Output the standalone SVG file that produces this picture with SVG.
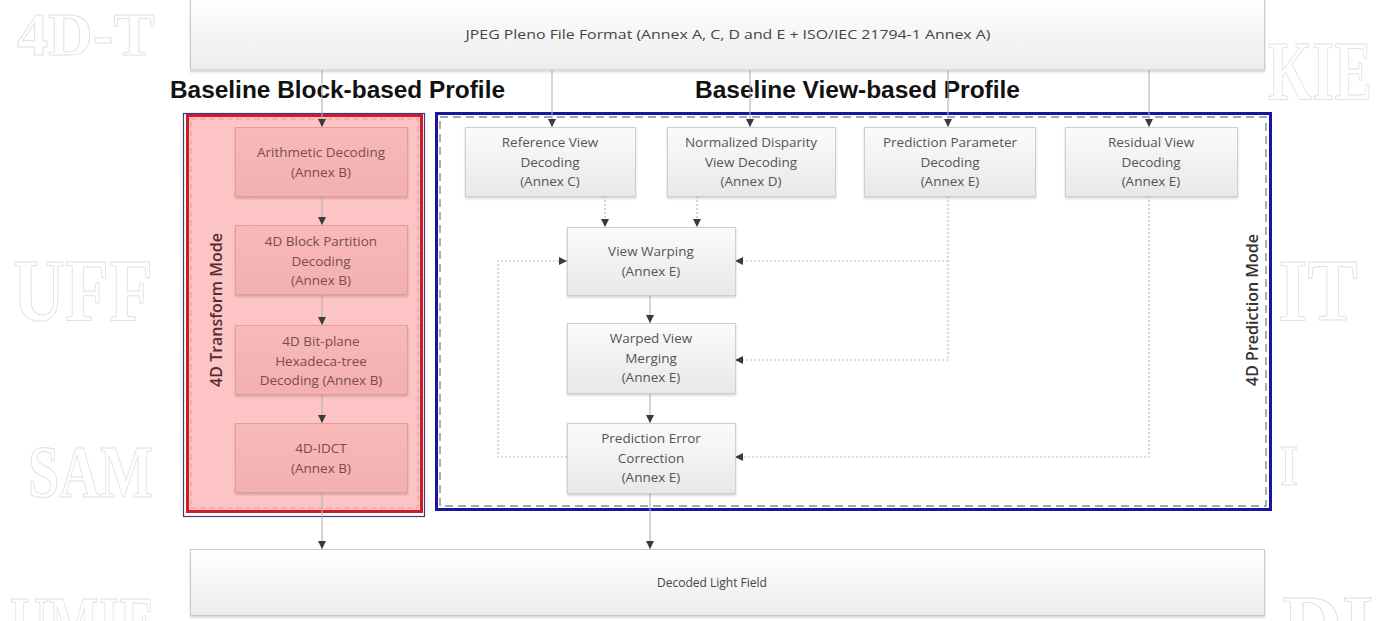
<svg xmlns="http://www.w3.org/2000/svg" width="1385" height="621" viewBox="0 0 1385 621">
  <defs>
    <linearGradient id="gBox" x1="0" y1="0" x2="0" y2="1">
      <stop offset="0" stop-color="#fbfbfb"/>
      <stop offset="1" stop-color="#e8e8e8"/>
    </linearGradient>
    <linearGradient id="gWide" x1="0" y1="0" x2="0" y2="1">
      <stop offset="0" stop-color="#ffffff"/>
      <stop offset="1" stop-color="#ececec"/>
    </linearGradient>
    <linearGradient id="gPink" x1="0" y1="0" x2="0" y2="1">
      <stop offset="0" stop-color="#f8b9b9"/>
      <stop offset="1" stop-color="#f2b0b0"/>
    </linearGradient>
    <filter id="shadow" x="-5%" y="-5%" width="110%" height="120%">
      <feDropShadow dx="0" dy="1.5" stdDeviation="1.2" flood-color="#000" flood-opacity="0.18"/>
    </filter>
    <marker id="arrow" markerWidth="9" markerHeight="9" refX="8" refY="4.5" orient="auto" markerUnits="userSpaceOnUse">
      <path d="M0,0.5 L8,4.5 L0,8.5 z" fill="#3a3a3a"/>
    </marker>
    <style>
      .wm { font-family: "Liberation Serif", serif; font-weight: bold; fill: #ffffff; stroke: #e1e1e1; stroke-width: 1; }
      .title { font-family: "Liberation Sans", Arial, sans-serif; font-weight: bold; font-size: 23px; fill: #111; }
      .node { fill: url(#gBox); stroke: #cfcfcf; stroke-width: 1; filter: url(#shadow); }
      .pnode { fill: url(#gPink); stroke: #e79c9c; stroke-width: 1; filter: url(#shadow); }
      .wide { fill: url(#gWide); stroke: #c9c9c9; stroke-width: 1; filter: url(#shadow); }
      .lbl { font-family: "Open Sans", "Noto Sans", sans-serif; font-size: 13.5px; fill: #555; text-anchor: middle; }
      .plbl { font-family: "Open Sans", "Noto Sans", sans-serif; font-size: 13.5px; fill: #7a4c4c; text-anchor: middle; }
      .small { font-family: "Open Sans", "Noto Sans", sans-serif; font-size: 12px; fill: #444; text-anchor: middle; }
      .mode { font-family: "Open Sans", "Noto Sans", sans-serif; font-size: 16px; font-weight: 600; text-anchor: middle; }
      .solid { fill: none; stroke: #b5b5b5; stroke-width: 1.1; marker-end: url(#arrow); }
      .dot { fill: none; stroke: #bdbdbd; stroke-width: 1.2; stroke-dasharray: 2 2; }
      .dota { fill: none; stroke: #bdbdbd; stroke-width: 1.2; stroke-dasharray: 2 2; marker-end: url(#arrow); }
    </style>
  </defs>

  <rect x="0" y="0" width="1385" height="621" fill="#ffffff"/>

  <!-- faint outlined background lettering -->
  <g id="background-lettering">
    <text class="wm" x="17" y="55" font-size="62">4D-T<tspan dx="45">M</tspan></text>
    <text class="wm" x="1268" y="100" font-size="84" textLength="104" lengthAdjust="spacingAndGlyphs">KIE</text>
    <text class="wm" x="13" y="320" font-size="88" textLength="140" lengthAdjust="spacingAndGlyphs">UFF</text>
    <text class="wm" x="1278" y="320" font-size="88" textLength="80" lengthAdjust="spacingAndGlyphs">IT</text>
    <text class="wm" x="28" y="497" font-size="74" textLength="125" lengthAdjust="spacingAndGlyphs">SAM</text>
    <text class="wm" x="1280" y="485" font-size="58" textLength="18" lengthAdjust="spacingAndGlyphs">I</text>
    <text class="wm" x="10" y="650" font-size="78" textLength="145" lengthAdjust="spacingAndGlyphs">UMIE</text>
    <text class="wm" x="1282" y="652" font-size="82" textLength="92" lengthAdjust="spacingAndGlyphs">DI</text>
  </g>

  <!-- profile headings -->
  <text class="title" x="170" y="98" textLength="335" lengthAdjust="spacingAndGlyphs">Baseline Block-based Profile</text>
  <text class="title" x="695" y="98" textLength="325" lengthAdjust="spacingAndGlyphs">Baseline View-based Profile</text>

  <!-- block-based profile frame -->
  <g id="block-profile">
    <rect x="183.5" y="113.5" width="241" height="403" fill="none" stroke="#3b3f78" stroke-width="1.2"/>
    <rect x="187.5" y="115.5" width="234" height="396" fill="#fcc4c4" stroke="#cf1a2a" stroke-width="3"/>
    <rect x="191" y="119" width="227" height="389" fill="none" stroke="#ee9a9a" stroke-width="1" stroke-dasharray="6 3"/>
    <text class="mode" fill="#5a2d2d" transform="translate(222 310) rotate(-90)">4D Transform Mode</text>
  </g>

  <!-- view-based profile frame -->
  <g id="view-profile">
    <rect x="436.5" y="113.5" width="834" height="396" fill="#ffffff" stroke="#1616a0" stroke-width="3"/>
    <rect x="440" y="117" width="826" height="389" fill="none" stroke="#8a8a9a" stroke-width="1.4" stroke-dasharray="8 5"/>
    <text class="mode" fill="#333" transform="translate(1258 310) rotate(-90)">4D Prediction Mode</text>
  </g>

  <!-- connectors -->
  <g id="connectors">
    <!-- from the file format box -->
    <line class="solid" x1="322" y1="70" x2="322" y2="127"/>
    <line class="solid" x1="552" y1="70" x2="552" y2="127"/>
    <line class="solid" x1="750" y1="70" x2="750" y2="127"/>
    <line class="solid" x1="948" y1="70" x2="948" y2="127"/>
    <line class="solid" x1="1149" y1="70" x2="1149" y2="127"/>
    <!-- block-based chain -->
    <line class="solid" x1="322" y1="196" x2="322" y2="225"/>
    <line class="solid" x1="322" y1="294" x2="322" y2="325"/>
    <line class="solid" x1="322" y1="394" x2="322" y2="423"/>
    <line class="solid" x1="322" y1="492" x2="322" y2="549"/>
    <!-- view-based chain -->
    <line class="dota" x1="605" y1="196" x2="605" y2="227"/>
    <line class="dota" x1="697" y1="196" x2="697" y2="227"/>
    <line class="solid" x1="650" y1="295" x2="650" y2="323"/>
    <line class="solid" x1="650" y1="393" x2="650" y2="423"/>
    <line class="solid" x1="650" y1="493" x2="650" y2="549"/>
    <!-- prediction parameters to warping and merging -->
    <polyline class="dot" points="948,196 948,360"/>
    <line class="dota" x1="948" y1="261" x2="735" y2="261"/>
    <line class="dota" x1="948" y1="360" x2="735" y2="360"/>
    <!-- residual views to error correction -->
    <polyline class="dota" points="1149,196 1149,457 735,457"/>
    <!-- feedback loop from error correction to warping -->
    <polyline class="dota" points="567,457 498,457 498,261 567,261"/>
  </g>

  <!-- file format box -->
  <g id="file-format">
    <rect class="wide" x="190.5" y="-1" width="1074" height="71"/>
    <text class="small" x="728" y="39" textLength="525" lengthAdjust="spacingAndGlyphs">JPEG Pleno File Format (Annex A, C, D and E + ISO/IEC 21794-1 Annex A)</text>
  </g>

  <!-- block-based nodes -->
  <g id="arith-decoding">
    <rect class="pnode" x="235.5" y="127.5" width="172" height="69"/>
    <text class="plbl" x="321" y="157">Arithmetic Decoding</text>
    <text class="plbl" x="321" y="177">(Annex B)</text>
  </g>
  <g id="block-partition">
    <rect class="pnode" x="235.5" y="225.5" width="172" height="69"/>
    <text class="plbl" x="321" y="246">4D Block Partition</text>
    <text class="plbl" x="321" y="266">Decoding</text>
    <text class="plbl" x="321" y="285">(Annex B)</text>
  </g>
  <g id="hexadeca-tree">
    <rect class="pnode" x="235.5" y="325.5" width="172" height="69"/>
    <text class="plbl" x="321" y="346">4D Bit-plane</text>
    <text class="plbl" x="321" y="366">Hexadeca-tree</text>
    <text class="plbl" x="321" y="385">Decoding (Annex B)</text>
  </g>
  <g id="idct">
    <rect class="pnode" x="235.5" y="423.5" width="172" height="69"/>
    <text class="plbl" x="321" y="453">4D-IDCT</text>
    <text class="plbl" x="321" y="473">(Annex B)</text>
  </g>

  <!-- view-based nodes -->
  <g id="reference-view">
    <rect class="node" x="465.5" y="127.5" width="170" height="69"/>
    <text class="lbl" x="550" y="147">Reference View</text>
    <text class="lbl" x="550" y="167">Decoding</text>
    <text class="lbl" x="550" y="186">(Annex C)</text>
  </g>
  <g id="disparity-view">
    <rect class="node" x="667.5" y="127.5" width="168" height="69"/>
    <text class="lbl" x="751" y="147">Normalized Disparity</text>
    <text class="lbl" x="751" y="167">View Decoding</text>
    <text class="lbl" x="751" y="186">(Annex D)</text>
  </g>
  <g id="prediction-parameter">
    <rect class="node" x="864.5" y="127.5" width="171" height="69"/>
    <text class="lbl" x="950" y="147">Prediction Parameter</text>
    <text class="lbl" x="950" y="167">Decoding</text>
    <text class="lbl" x="950" y="186">(Annex E)</text>
  </g>
  <g id="residual-view">
    <rect class="node" x="1065.5" y="127.5" width="172" height="69"/>
    <text class="lbl" x="1151" y="147">Residual View</text>
    <text class="lbl" x="1151" y="167">Decoding</text>
    <text class="lbl" x="1151" y="186">(Annex E)</text>
  </g>
  <g id="view-warping">
    <rect class="node" x="567.5" y="227.5" width="168" height="68"/>
    <text class="lbl" x="651" y="256">View Warping</text>
    <text class="lbl" x="651" y="276">(Annex E)</text>
  </g>
  <g id="view-merging">
    <rect class="node" x="567.5" y="323.5" width="168" height="70"/>
    <text class="lbl" x="651" y="343">Warped View</text>
    <text class="lbl" x="651" y="363">Merging</text>
    <text class="lbl" x="651" y="382">(Annex E)</text>
  </g>
  <g id="error-correction">
    <rect class="node" x="567.5" y="423.5" width="168" height="70"/>
    <text class="lbl" x="651" y="443">Prediction Error</text>
    <text class="lbl" x="651" y="463">Correction</text>
    <text class="lbl" x="651" y="482">(Annex E)</text>
  </g>

  <!-- output box -->
  <g id="light-field">
    <rect class="wide" x="190.5" y="549.5" width="1074" height="66"/>
    <text class="small" x="712" y="587">Decoded Light Field</text>
  </g>
</svg>
